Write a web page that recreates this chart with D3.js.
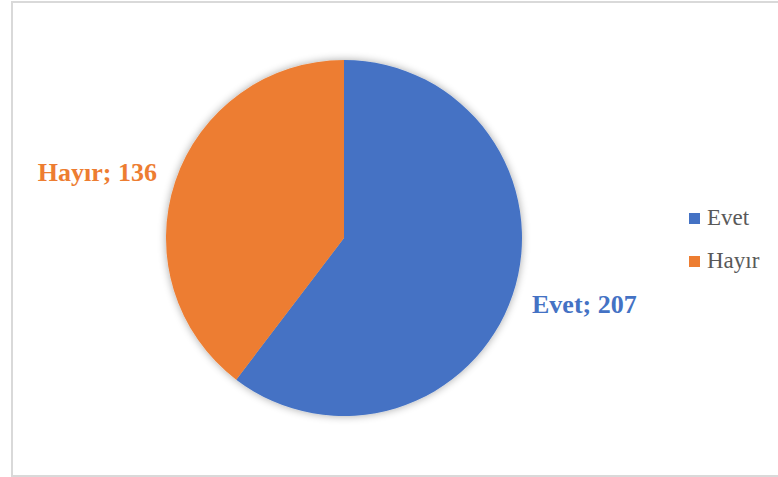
<!DOCTYPE html>
<html><head><meta charset="utf-8">
<script src="https://cdn.jsdelivr.net/npm/d3@7"></script>
<style>html,body{margin:0;padding:0;background:#fff;}</style>
</head><body>
<svg id="c" width="778" height="477"></svg>
<script>
const categories = ["Evet", "Hayır"];
const values = [207, 136];
const colors = ["#4472C4", "#ED7D31"];

const svg = d3.select("#c");
svg.append("rect").attr("x", 12).attr("y", 2).attr("width", 800).attr("height", 474)
  .attr("fill", "#fff").attr("stroke", "#d9d9d9").attr("stroke-width", 2);

const defs = svg.append("defs");
const f = defs.append("filter").attr("id", "sh").attr("x", "-20%").attr("y", "-20%").attr("width", "140%").attr("height", "140%");
f.append("feGaussianBlur").attr("in", "SourceAlpha").attr("stdDeviation", 4).attr("result", "b");
f.append("feOffset").attr("in", "b").attr("dx", 0).attr("dy", 0).attr("result", "o");
f.append("feComponentTransfer").attr("in", "o").attr("result", "o2")
  .append("feFuncA").attr("type", "linear").attr("slope", 0.35);
const m = f.append("feMerge");
m.append("feMergeNode").attr("in", "o2");
m.append("feMergeNode").attr("in", "SourceGraphic");

const cx = 344, cy = 238, r = 178;
const pie = d3.pie().sort(null).value(d => d)(values);
const arc = d3.arc().innerRadius(0).outerRadius(r);
const g = svg.append("g").attr("transform", `translate(${cx},${cy})`).attr("filter", "url(#sh)");
g.selectAll("path").data(pie).join("path")
  .attr("d", arc).attr("fill", (d, i) => colors[i]);

// data labels
const labelPos = [[532, 313, "start"], [157, 181, "end"]];
svg.selectAll("text.lbl").data(pie).join("text").attr("class", "lbl")
  .attr("x", (d, i) => labelPos[i][0]).attr("y", (d, i) => labelPos[i][1])
  .attr("text-anchor", (d, i) => labelPos[i][2])
  .attr("font-family", "'Liberation Serif','Times New Roman',serif")
  .attr("font-weight", "bold").attr("font-size", 26)
  .attr("fill", (d, i) => colors[i])
  .text((d, i) => `${categories[i]}; ${values[i]}`);

// legend
const leg = svg.append("g").attr("transform", "translate(689,213)");
const items = leg.selectAll("g").data(categories).join("g")
  .attr("transform", (d, i) => `translate(0,${i * 43})`);
items.append("rect").attr("width", 11).attr("height", 11).attr("fill", (d, i) => colors[i]);
items.append("text").attr("x", 18).attr("y", 11.5)
  .attr("font-family", "'Liberation Serif','Times New Roman',serif")
  .attr("font-size", 23).attr("fill", "#595959").text(d => d);
</script>
</body></html>
